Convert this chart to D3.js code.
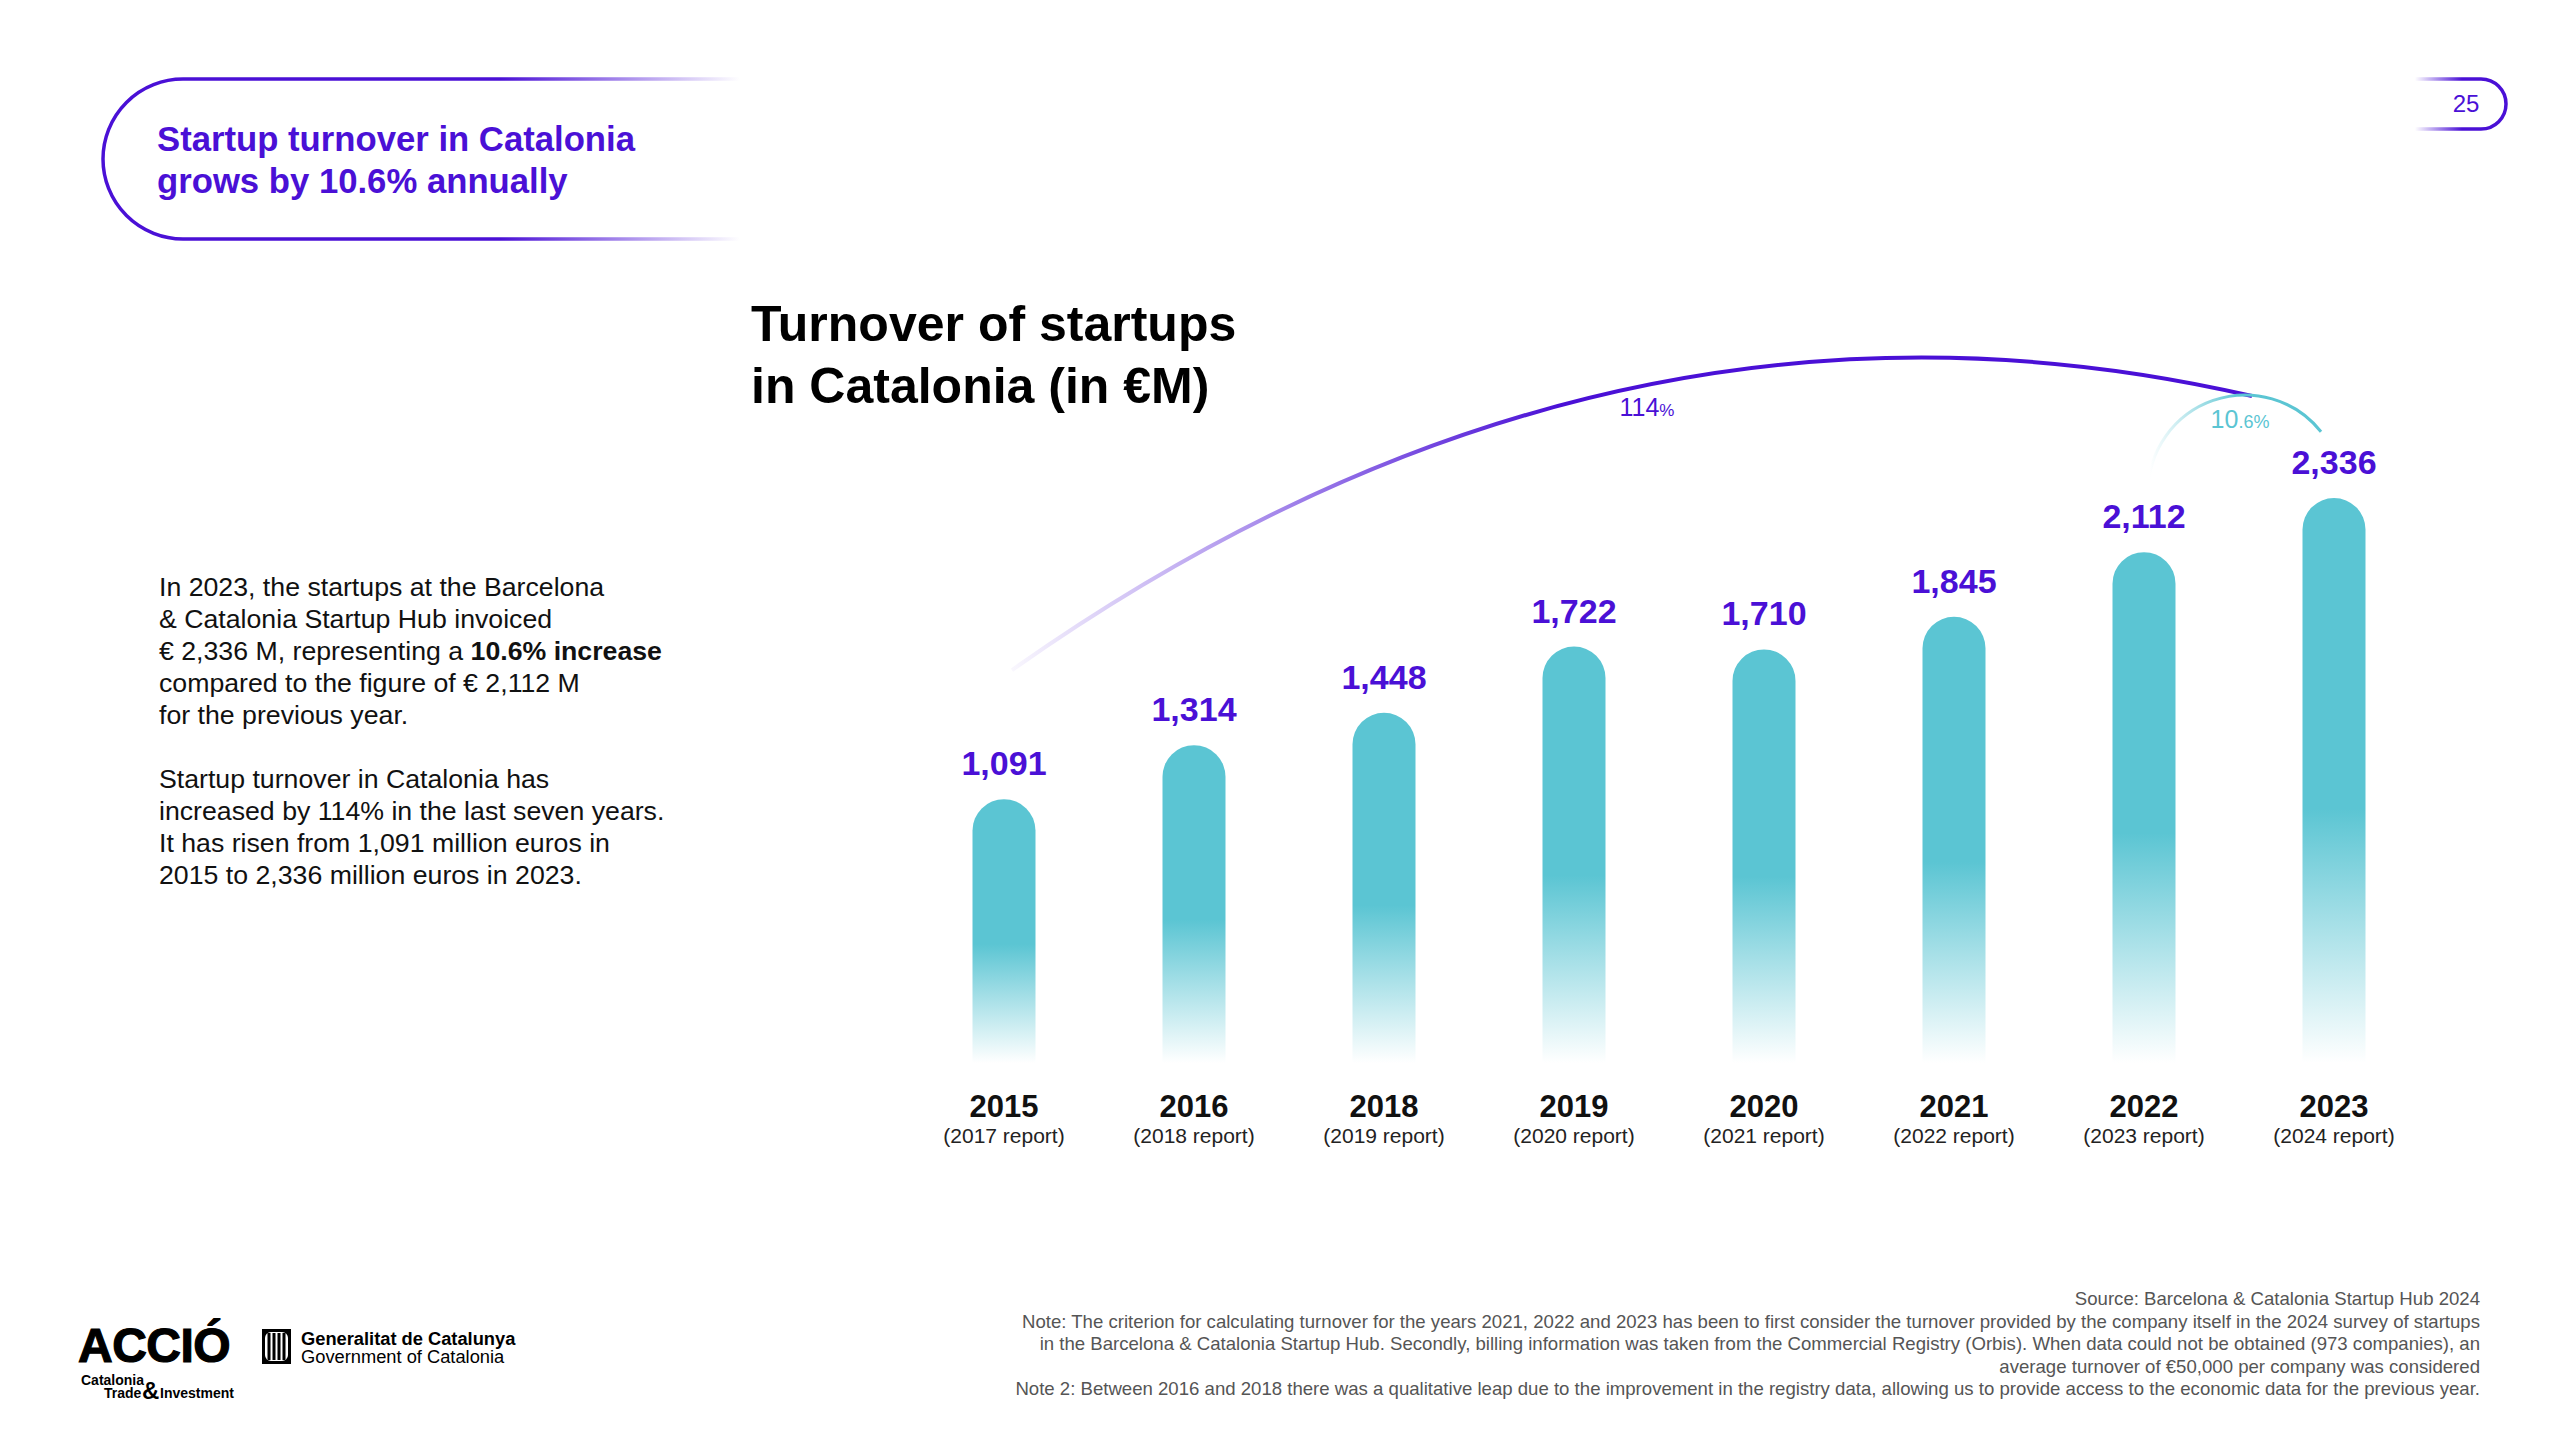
<!DOCTYPE html>
<html>
<head>
<meta charset="utf-8">
<script src="https://cdnjs.cloudflare.com/ajax/libs/d3/7.8.5/d3.min.js"></script>
<style>
    body { margin: 0; background: #ffffff; }
    svg { display: block; font-family: "Liberation Sans", Arial, Helvetica, sans-serif; }
</style>
</head>
<body>
<div id="chart"></div>
<script>
// Chart data
const years = ['2015', '2016', '2018', '2019', '2020', '2021', '2022', '2023'];
const reports = ['(2017 report)', '(2018 report)', '(2019 report)', '(2020 report)',
    '(2021 report)', '(2022 report)', '(2023 report)', '(2024 report)'];
const turnover = [1091, 1314, 1448, 1722, 1710, 1845, 2112, 2336];

const headerLines = ['Startup turnover in Catalonia', 'grows by 10.6% annually'];
const titleLines = ['Turnover of startups', 'in Catalonia (in €M)'];
const noteLines = [
    'Source: Barcelona & Catalonia Startup Hub 2024',
    'Note: The criterion for calculating turnover for the years 2021, 2022 and 2023 has been to first consider the turnover provided by the company itself in the 2024 survey of startups',
    'in the Barcelona & Catalonia Startup Hub. Secondly, billing information was taken from the Commercial Registry (Orbis). When data could not be obtained (973 companies), an',
    'average turnover of €50,000 per company was considered',
    'Note 2: Between 2016 and 2018 there was a qualitative leap due to the improvement in the registry data, allowing us to provide access to the economic data for the previous year.'
];

const PURPLE = '#4a10d6';
const TEAL = '#5bc5d3';

const width = 2560;
const height = 1440;

const svg = d3.select('#chart')
    .append('svg')
    .attr('width', width)
    .attr('height', height);

const defs = svg.append('defs');

// Bar gradient: solid teal at top, fading out at the bottom
const barGrad = defs.append('linearGradient')
    .attr('id', 'barGrad')
    .attr('x1', 0).attr('y1', 0).attr('x2', 0).attr('y2', 1);
barGrad.append('stop').attr('offset', 0).attr('stop-color', TEAL);
barGrad.append('stop').attr('offset', 0.55).attr('stop-color', TEAL);
barGrad.append('stop').attr('offset', 0.75).attr('stop-color', TEAL).attr('stop-opacity', 0.55);
barGrad.append('stop').attr('offset', 1).attr('stop-color', TEAL).attr('stop-opacity', 0);

// Fading strokes for the pills and the arcs
function fadeGradient(id, x1, x2, color, fromOpacity, toOpacity) {
    const g = defs.append('linearGradient')
        .attr('id', id)
        .attr('gradientUnits', 'userSpaceOnUse')
        .attr('x1', x1).attr('y1', 0).attr('x2', x2).attr('y2', 0);
    g.append('stop').attr('offset', 0).attr('stop-color', color).attr('stop-opacity', fromOpacity);
    g.append('stop').attr('offset', 1).attr('stop-color', color).attr('stop-opacity', toOpacity);
}
fadeGradient('headerGrad', 500, 740, PURPLE, 1, 0);
fadeGradient('pageGrad', 2415, 2462, PURPLE, 0, 1);
fadeGradient('bigArcGrad', 1010, 1560, PURPLE, 0.03, 1);
fadeGradient('smallArcGrad', 2150, 2240, TEAL, 0, 1);

// Header pill
svg.append('path')
    .attr('d', 'M740,79 H183 A80,80 0 0 0 183,239 H740')
    .attr('fill', 'none')
    .attr('stroke', 'url(#headerGrad)')
    .attr('stroke-width', 3.5);

svg.append('g')
    .selectAll('text')
    .data(headerLines)
    .enter()
    .append('text')
    .attr('x', 157)
    .attr('y', (d, i) => 151 + i * 42)
    .style('font-size', '34.7px')
    .style('font-weight', 'bold')
    .style('fill', PURPLE)
    .text(d => d);

// Page number pill
svg.append('path')
    .attr('d', 'M2415,79 H2481 A25,25 0 0 1 2481,129 H2415')
    .attr('fill', 'none')
    .attr('stroke', 'url(#pageGrad)')
    .attr('stroke-width', 3.5);

svg.append('text')
    .attr('x', 2466)
    .attr('y', 112)
    .attr('text-anchor', 'middle')
    .style('font-size', '24px')
    .style('fill', PURPLE)
    .text('25');

// Left side description
const para = svg.append('text')
    .attr('x', 159)
    .style('font-size', '26.7px')
    .style('fill', '#111');

const paraLines = [
    [['In 2023, the startups at the Barcelona', false]],
    [['& Catalonia Startup Hub invoiced', false]],
    [['€ 2,336 M, representing a ', false], ['10.6% increase', true]],
    [['compared to the figure of € 2,112 M', false]],
    [['for the previous year.', false]],
    null,
    [['Startup turnover in Catalonia has', false]],
    [['increased by 114% in the last seven years.', false]],
    [['It has risen from 1,091 million euros in', false]],
    [['2015 to 2,336 million euros in 2023.', false]]
];

paraLines.forEach((line, i) => {
    if (!line) return;
    line.forEach((part, j) => {
        const span = para.append('tspan')
            .style('font-weight', part[1] ? 'bold' : 'normal')
            .text(part[0]);
        if (j === 0) {
            span.attr('x', 159).attr('y', 596 + i * 32);
        }
    });
});

// Chart title
svg.append('g')
    .selectAll('text')
    .data(titleLines)
    .enter()
    .append('text')
    .attr('x', 751)
    .attr('y', (d, i) => 341 + i * 62)
    .style('font-size', '50px')
    .style('font-weight', 'bold')
    .style('fill', '#000')
    .text(d => d);

// Scales
const x = d3.scalePoint()
    .domain(years)
    .range([1004, 2334]);

const y = d3.scaleLinear()
    .domain([0, 2336])
    .range([1063, 498]);

const barWidth = 63;
const r = barWidth / 2;

// Bars with a rounded top
svg.append('g')
    .selectAll('path')
    .data(years)
    .enter()
    .append('path')
    .attr('d', (d, i) => {
        const cx = x(d);
        const top = y(turnover[i]);
        const bottom = y(0);
        return `M${cx - r},${bottom} V${top + r} A${r},${r} 0 0 1 ${cx + r},${top + r} V${bottom} Z`;
    })
    .attr('fill', 'url(#barGrad)');

// Value labels
svg.append('g')
    .selectAll('text')
    .data(years)
    .enter()
    .append('text')
    .attr('x', d => x(d))
    .attr('y', (d, i) => y(turnover[i]) - 24)
    .attr('text-anchor', 'middle')
    .style('font-size', '34px')
    .style('font-weight', 'bold')
    .style('fill', PURPLE)
    .text((d, i) => d3.format(',')(turnover[i]));

// Year and report labels
const xLabels = svg.append('g');
xLabels.selectAll('text.year')
    .data(years)
    .enter()
    .append('text')
    .attr('class', 'year')
    .attr('x', d => x(d))
    .attr('y', 1117)
    .attr('text-anchor', 'middle')
    .style('font-size', '31px')
    .style('font-weight', 'bold')
    .style('fill', '#111')
    .text(d => d);

xLabels.selectAll('text.report')
    .data(reports)
    .enter()
    .append('text')
    .attr('class', 'report')
    .attr('x', (d, i) => x(years[i]))
    .attr('y', 1143)
    .attr('text-anchor', 'middle')
    .style('font-size', '21px')
    .style('fill', '#222')
    .text(d => d);

// Big growth arc (2015 -> 2023)
const first = years[0];
const last = years[years.length - 1];
const arcStart = [x(first) + 8, y(turnover[0]) - 129];
const arcEnd = [x(last) - 82, y(turnover[turnover.length - 1]) - 102];
const bigArc = d3.path();
bigArc.moveTo(arcStart[0], arcStart[1]);
bigArc.quadraticCurveTo(1610, 248, arcEnd[0], arcEnd[1]);

svg.append('path')
    .attr('d', bigArc.toString())
    .attr('fill', 'none')
    .attr('stroke', 'url(#bigArcGrad)')
    .attr('stroke-width', 4);

const bigLabel = svg.append('text')
    .attr('x', 1647)
    .attr('y', 416)
    .attr('text-anchor', 'middle')
    .style('fill', PURPLE);
bigLabel.append('tspan').style('font-size', '25px').text('114');
bigLabel.append('tspan').style('font-size', '17px').text('%');

// Small growth arc (2022 -> 2023)
const smallArc = d3.path();
const sc = [x(years[6]) + 101, 492];
const sr = 97;
smallArc.arc(sc[0], sc[1], sr, Math.PI, Math.PI * 2 - 0.67);

svg.append('path')
    .attr('d', smallArc.toString())
    .attr('fill', 'none')
    .attr('stroke', 'url(#smallArcGrad)')
    .attr('stroke-width', 3);

const smallLabel = svg.append('text')
    .attr('x', 2240)
    .attr('y', 428)
    .attr('text-anchor', 'middle')
    .style('fill', TEAL);
smallLabel.append('tspan').style('font-size', '25px').text('10');
smallLabel.append('tspan').style('font-size', '18px').text('.6%');

// Source and notes, right aligned
svg.append('g')
    .selectAll('text')
    .data(noteLines)
    .enter()
    .append('text')
    .attr('x', 2480)
    .attr('y', (d, i) => 1305 + i * 22.5)
    .attr('text-anchor', 'end')
    .style('font-size', '18.6px')
    .style('fill', '#555')
    .text(d => d);

// Logos
const logos = svg.append('g');
logos.append('text')
    .attr('x', 78)
    .attr('y', 1362)
    .style('font-size', '48px')
    .style('font-weight', 'bold')
    .style('letter-spacing', '-0.5px')
    .style('fill', '#000')
    .style('stroke', '#000')
    .style('stroke-width', '1.2px')
    .text('ACCIÓ');
logos.append('text')
    .attr('x', 81)
    .attr('y', 1385)
    .style('font-size', '14px')
    .style('font-weight', 'bold')
    .text('Catalonia');
logos.append('text')
    .attr('x', 104)
    .attr('y', 1398)
    .style('font-size', '14px')
    .style('font-weight', 'bold')
    .text('Trade');
logos.append('text')
    .attr('x', 142)
    .attr('y', 1399)
    .style('font-size', '24px')
    .style('font-weight', 'bold')
    .text('&');
logos.append('text')
    .attr('x', 160)
    .attr('y', 1398)
    .style('font-size', '14px')
    .style('font-weight', 'bold')
    .text('Investment');

// Generalitat emblem
logos.append('rect')
    .attr('x', 262).attr('y', 1329)
    .attr('width', 29).attr('height', 35)
    .attr('fill', '#000');
logos.append('rect')
    .attr('x', 265).attr('y', 1332)
    .attr('width', 23).attr('height', 29)
    .attr('rx', 6)
    .attr('fill', '#fff');
[269, 274, 279, 284].forEach(px => {
    logos.append('rect')
        .attr('x', px - 1.5).attr('y', 1333)
        .attr('width', 3).attr('height', 27)
        .attr('fill', '#000');
});
logos.append('text')
    .attr('x', 301)
    .attr('y', 1345)
    .style('font-size', '18.3px')
    .style('font-weight', 'bold')
    .text('Generalitat de Catalunya');
logos.append('text')
    .attr('x', 301)
    .attr('y', 1363)
    .style('font-size', '18.3px')
    .text('Government of Catalonia');
</script>
</body>
</html>
